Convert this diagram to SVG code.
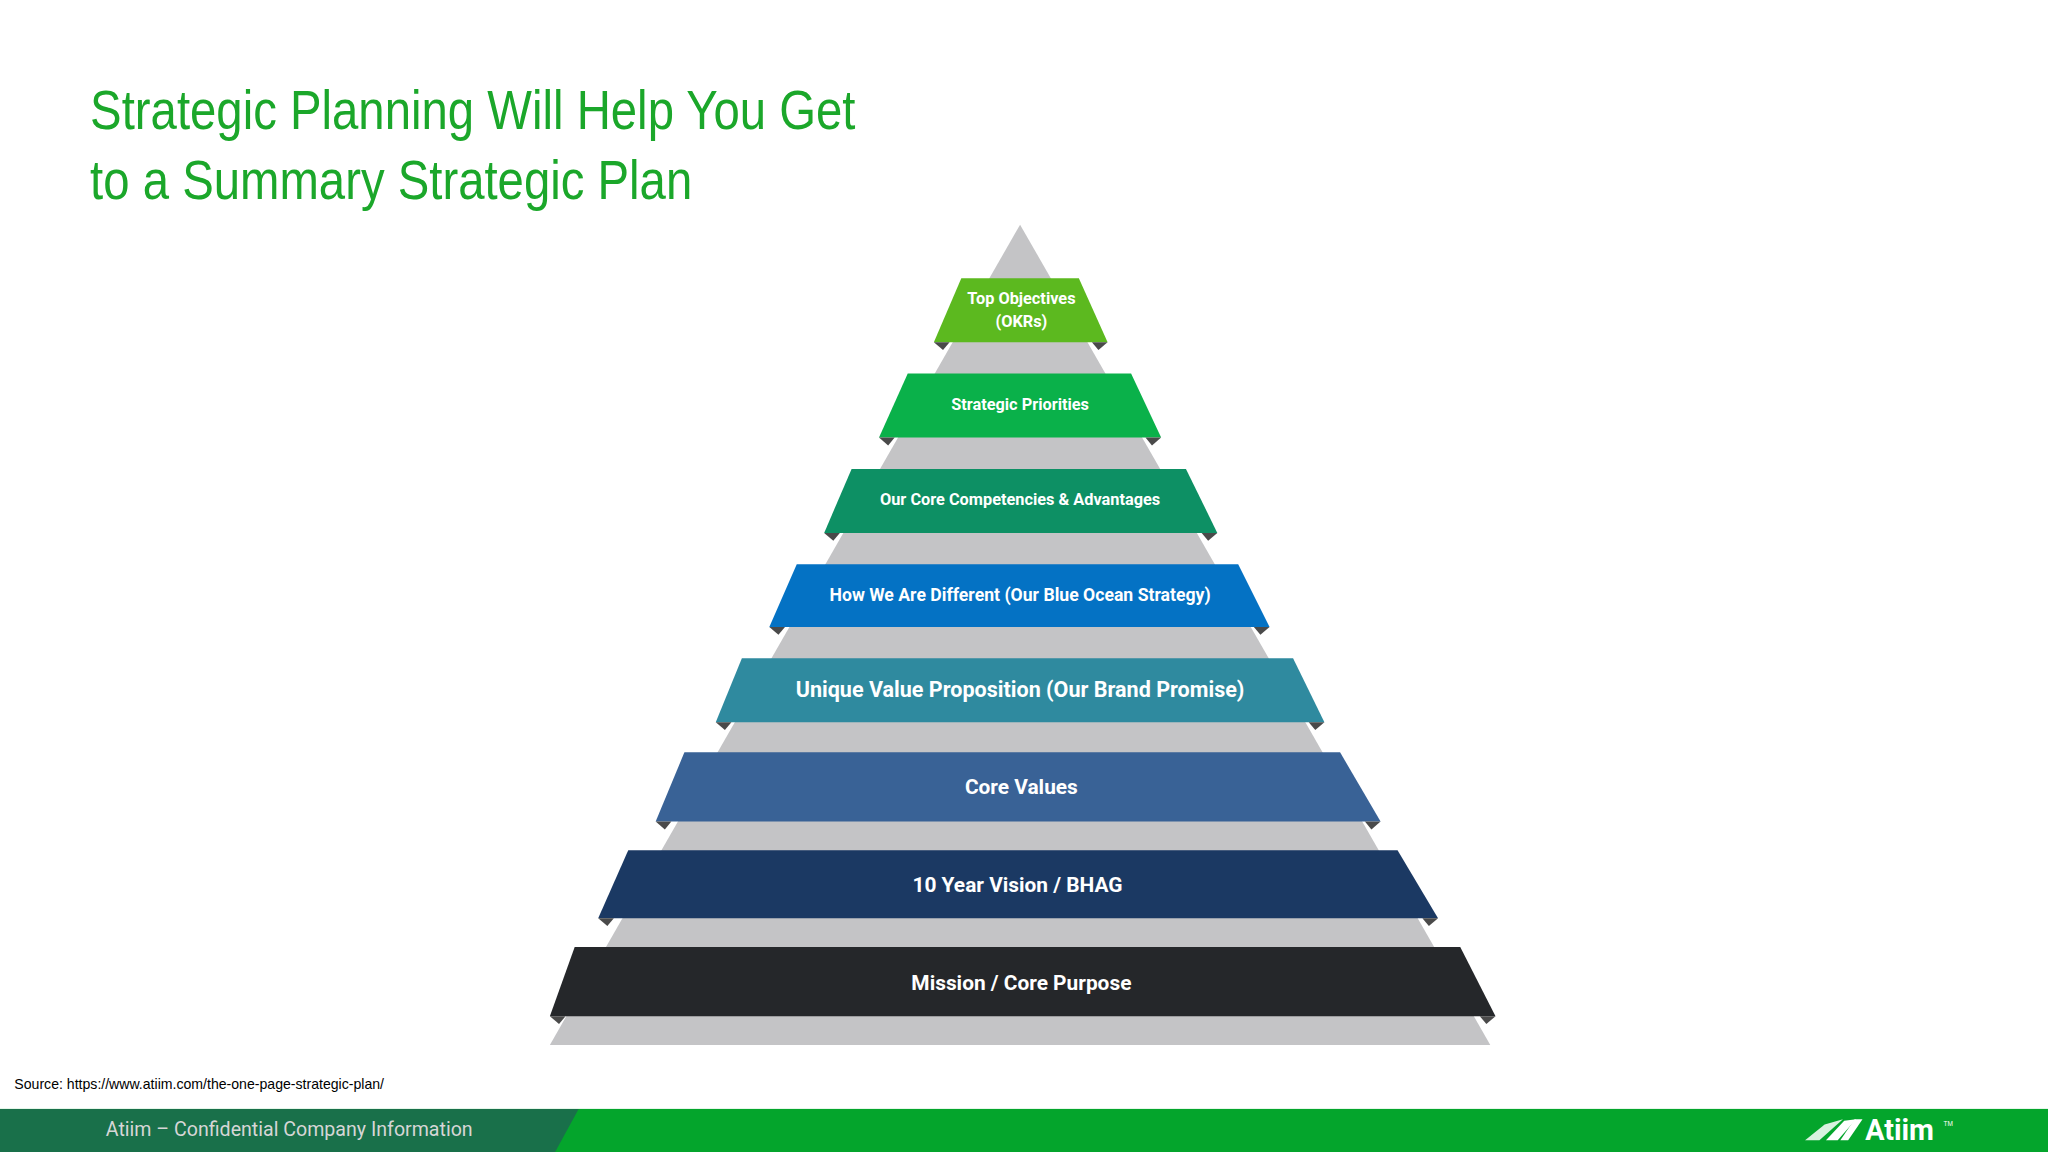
<svg xmlns="http://www.w3.org/2000/svg" width="2048" height="1152" viewBox="0 0 2048 1152">
<style>
.bt{font-family:Roboto,"Liberation Sans",sans-serif;font-weight:bold;fill:#fff;text-anchor:middle}
.sh{fill:#4a4a4a}
</style>
<rect width="2048" height="1152" fill="#fff"/>
<g transform="scale(1.306122)">
<g id="title" font-family="'Liberation Sans',sans-serif" font-size="42" fill="#1ba72a">
<text x="69" y="99" textLength="586" lengthAdjust="spacingAndGlyphs">Strategic Planning Will Help You Get</text>
<text x="69" y="152" textLength="461" lengthAdjust="spacingAndGlyphs">to a Summary Strategic Plan</text>
</g>
<g id="pyramid-base"><polygon points="781,172 1141,800 421,800" fill="#c4c4c6"/></g>
<g id="b1"><polygon points="736,213 826,213 848,262 715,262" fill="#5cb91f"/><polygon class="sh" points="715,262 727,262 722,268"/><polygon class="sh" points="836,262 848,262 841,268"/>
<text class="bt" x="782" y="233" font-size="12.5">Top Objectives</text><text class="bt" x="782" y="250" font-size="12.5">(OKRs)</text></g>
<g id="b2"><polygon points="695,286 866,286 889,335 673,335" fill="#0ab14a"/><polygon class="sh" points="673,335 685,335 680,341"/><polygon class="sh" points="877,335 889,335 882,341"/>
<text class="bt" x="781" y="314" font-size="12.5">Strategic Priorities</text></g>
<g id="b3"><polygon points="652,359 908,359 932,408 631,408" fill="#0d9064"/><polygon class="sh" points="631,408 643,408 638,414"/><polygon class="sh" points="920,408 932,408 925,414"/>
<text class="bt" x="781" y="387" font-size="12.5">Our Core Competencies &amp; Advantages</text></g>
<g id="b4"><polygon points="610,432 948,432 972,480 589,480" fill="#0472c4"/><polygon class="sh" points="589,480 601,480 596,486"/><polygon class="sh" points="960,480 972,480 965,486"/>
<text class="bt" x="781" y="460" font-size="13.5">How We Are Different (Our Blue Ocean Strategy)</text></g>
<g id="b5"><polygon points="568,504 990,504 1014,553 548,553" fill="#2f8a9f"/><polygon class="sh" points="548,553 560,553 555,559"/><polygon class="sh" points="1002,553 1014,553 1007,559"/>
<text class="bt" x="781" y="534" font-size="16.5">Unique Value Proposition (Our Brand Promise)</text></g>
<g id="b6"><polygon points="524,576 1026,576 1057,629 502,629" fill="#396296"/><polygon class="sh" points="502,629 514,629 509,635"/><polygon class="sh" points="1045,629 1057,629 1050,635"/>
<text class="bt" x="782" y="608" font-size="16">Core Values</text></g>
<g id="b7"><polygon points="481,651 1070,651 1101,703 458,703" fill="#1b3963"/><polygon class="sh" points="458,703 470,703 465,709"/><polygon class="sh" points="1089,703 1101,703 1094,709"/>
<text class="bt" x="779" y="683" font-size="16">10 Year Vision / BHAG</text></g>
<g id="b8"><polygon points="440,725 1118,725 1145,778 421,778" fill="#25272a"/><polygon class="sh" points="421,778 433,778 428,784"/><polygon class="sh" points="1133,778 1145,778 1138,784"/>
<text class="bt" x="782" y="758" font-size="16">Mission / Core Purpose</text></g>
<text x="11" y="834" font-family="'Liberation Sans',sans-serif" font-size="11" fill="#000" textLength="283" lengthAdjust="spacingAndGlyphs">Source: https://www.atiim.com/the-one-page-strategic-plan/</text>
<g id="footer">
<rect x="0" y="849" width="1568" height="33" fill="#04a52c"/>
<polygon points="0,849 443,849 425,882 0,882" fill="#19704a"/>
<text x="81" y="870" font-family="Roboto,'Liberation Sans',sans-serif" font-size="15" fill="#d6d6d6">Atiim – Confidential Company Information</text>
<polygon points="1382,873 1397,861 1411,857 1393,873" fill="#fff" opacity="0.85"/>
<polygon points="1398,873 1412,858 1421,857 1407,873" fill="#fff"/>
<polygon points="1409,873 1420,857 1426,857 1415,873" fill="#fff"/>
<text x="1428" y="873" font-family="Roboto,'Liberation Sans',sans-serif" font-weight="bold" font-size="22" fill="#fff">Atiim</text>
<text x="1488" y="862" font-family="'Liberation Sans',sans-serif" font-size="5" fill="#fff">TM</text>
</g>
</g>
</svg>
